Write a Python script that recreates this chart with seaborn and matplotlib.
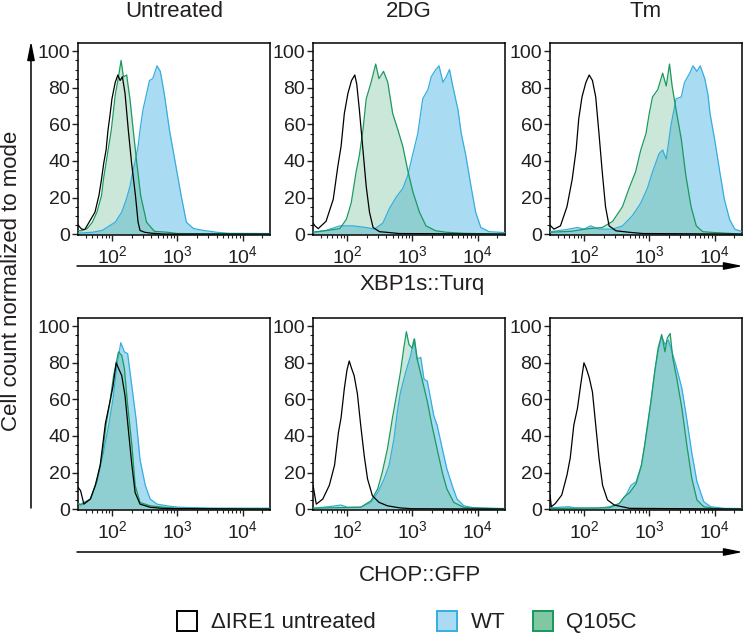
import numpy as np
import matplotlib
matplotlib.use("Agg")
import matplotlib.pyplot as plt
import seaborn as sns
from matplotlib.patches import FancyArrowPatch, Rectangle
from matplotlib.ticker import LogLocator, MultipleLocator, NullFormatter

# conditions (columns) and reporters (rows)
conditions = ["Untreated", "2DG", "Tm"]
reporters = ["XBP1s::Turq", "CHOP::GFP"]
legend_labels = ["\u0394IRE1 untreated", "WT", "Q105C"]

# histogram outlines: log10(intensity) and % of mode
# --- XBP1s::Turq, Untreated
xbp_untr_ire1_x = [1.48, 1.535, 1.585, 1.65, 1.74, 1.80, 1.84, 1.875, 1.91, 1.94, 1.97, 2.0, 2.05, 2.09, 2.125, 2.16, 2.2, 2.25, 2.30, 2.36, 2.40, 2.43, 2.5, 2.6, 2.8, 4.42]
xbp_untr_ire1_y = [5, 2.7, 2.5, 6.5, 12, 21, 30, 39, 46, 57, 65, 74, 83, 87, 84, 86, 77, 57, 39, 21, 6.5, 2, 1, 0.5, 0, 0]
xbp_untr_wt_x = [1.48, 1.7, 1.85, 2.05, 2.15, 2.22, 2.275, 2.33, 2.35, 2.40, 2.43, 2.475, 2.525, 2.575, 2.625, 2.69, 2.74, 2.80, 2.88, 2.97, 3.06, 3.14, 3.25, 3.4, 3.6, 3.8, 4.42]
xbp_untr_wt_y = [0.5, 1, 2, 6.5, 12, 19, 26, 36, 39, 48, 57, 68, 76, 84, 85, 92, 89, 77, 57, 39, 21, 6.5, 3, 2, 1, 0.4, 0.3]
xbp_untr_q105c_x = [1.48, 1.535, 1.62, 1.70, 1.77, 1.84, 1.87, 1.91, 1.95, 1.99, 2.05, 2.10, 2.14, 2.175, 2.225, 2.275, 2.325, 2.38, 2.44, 2.53, 2.65, 2.85, 3.0, 4.42]
xbp_untr_q105c_y = [2, 1.8, 3, 6.5, 12, 21, 30, 39, 48, 57, 76, 86, 95, 86, 87, 74, 57, 39, 21, 6.5, 1.5, 1, 0.3, 0]
# --- XBP1s::Turq, 2DG
xbp_2dg_ire1_x = [1.48, 1.51, 1.56, 1.68, 1.79, 1.86, 1.91, 1.96, 2.015, 2.07, 2.12, 2.15, 2.19, 2.24, 2.295, 2.345, 2.40, 2.5, 2.6, 2.8, 4.42]
xbp_2dg_ire1_y = [6, 4.5, 3, 7, 19, 37, 48, 66, 77, 84, 87, 82, 68, 48, 26, 12, 3.6, 1.3, 1, 0.3, 0]
xbp_2dg_wt_x = [1.48, 1.68, 1.89, 2.09, 2.295, 2.42, 2.55, 2.65, 2.75, 2.855, 2.93, 3.01, 3.085, 3.16, 3.24, 3.29, 3.36, 3.41, 3.47, 3.52, 3.57, 3.62, 3.70, 3.75, 3.82, 3.90, 3.97, 4.05, 4.18, 4.33, 4.42]
xbp_2dg_wt_y = [1, 2, 4.5, 4.5, 3.6, 2.7, 6, 14, 20, 25, 32, 44, 55, 74, 79, 86, 90, 92, 83, 86, 90, 81, 68, 55, 43, 26, 12, 3.6, 1.3, 1, 0.8]
xbp_2dg_q105c_x = [1.48, 1.7, 1.89, 1.99, 2.065, 2.14, 2.19, 2.245, 2.295, 2.37, 2.44, 2.49, 2.56, 2.625, 2.70, 2.78, 2.855, 2.93, 3.01, 3.11, 3.21, 3.36, 3.52, 3.8, 4.42]
xbp_2dg_q105c_y = [1, 2, 3, 8, 17, 34, 43, 57, 74, 83, 93, 85, 89, 83, 66, 57, 48, 35, 23, 12, 4.5, 1.8, 1, 0.4, 0]
# --- XBP1s::Turq, Tm
xbp_tm_ire1_x = [1.48, 1.49, 1.54, 1.64, 1.74, 1.82, 1.88, 1.92, 1.97, 2.03, 2.08, 2.13, 2.18, 2.23, 2.28, 2.33, 2.385, 2.49, 2.69, 2.9, 4.42]
xbp_tm_ire1_y = [5, 4.5, 2.7, 4.5, 15, 30, 46, 63, 75, 83, 87, 84, 75, 55, 34, 15, 4.5, 1.8, 1, 0.3, 0]
xbp_tm_wt_x = [1.48, 1.72, 1.90, 2.0, 2.10, 2.23, 2.44, 2.59, 2.74, 2.87, 2.97, 3.05, 3.15, 3.205, 3.26, 3.33, 3.41, 3.49, 3.54, 3.62, 3.67, 3.73, 3.78, 3.85, 3.90, 3.93, 4.0, 4.08, 4.15, 4.23, 4.31, 4.42]
xbp_tm_wt_y = [1.3, 2.4, 3.6, 2.7, 4.5, 2.7, 2.7, 4.5, 10, 17, 25, 34, 44, 46, 41, 59, 74, 75, 83, 88, 92, 89, 92, 85, 76, 66, 52, 34, 19, 8, 2.7, 1.3]
xbp_tm_q105c_x = [1.48, 1.8, 2.08, 2.28, 2.44, 2.59, 2.69, 2.79, 2.87, 2.95, 3.0, 3.05, 3.13, 3.205, 3.26, 3.31, 3.35, 3.41, 3.49, 3.56, 3.64, 3.72, 3.82, 3.97, 4.42]
xbp_tm_q105c_y = [1, 1.5, 3, 3.6, 7, 15, 25, 34, 46, 55, 66, 75, 79, 88, 81, 93, 81, 68, 52, 32, 15, 4.5, 1.3, 0.9, 0]
# --- CHOP::GFP, Untreated
chop_untr_ire1_x = [1.48, 1.52, 1.57, 1.67, 1.745, 1.82, 1.90, 1.965, 2.015, 2.065, 2.10, 2.15, 2.20, 2.255, 2.305, 2.355, 2.43, 2.585, 2.8, 4.42]
chop_untr_ire1_y = [12, 10, 2.7, 5.5, 13, 24, 47, 58, 67, 80, 77, 73, 62, 42, 24, 9, 2.7, 1, 0.3, 0]
chop_untr_wt_x = [1.48, 1.52, 1.67, 1.77, 1.87, 1.95, 2.015, 2.075, 2.135, 2.19, 2.24, 2.305, 2.37, 2.43, 2.51, 2.585, 2.69, 2.89, 3.04, 3.5, 4.42]
chop_untr_wt_y = [3, 2.7, 5.5, 14.6, 31, 46, 60, 78, 91, 86, 85, 67, 49, 27, 13, 5.5, 2.7, 1.5, 1, 0.5, 0.5]
chop_untr_q105c_x = [1.48, 1.52, 1.67, 1.77, 1.85, 1.91, 1.975, 2.025, 2.10, 2.15, 2.19, 2.24, 2.305, 2.355, 2.43, 2.585, 2.79, 3.0, 4.42]
chop_untr_q105c_y = [3, 2.2, 5.5, 15.5, 29, 46, 60, 73, 86, 84, 77, 57, 35, 13, 3.6, 1.8, 1, 0.4, 0.2]
# --- CHOP::GFP, 2DG
chop_2dg_ire1_x = [1.48, 1.49, 1.53, 1.63, 1.73, 1.81, 1.87, 1.91, 1.96, 2.0, 2.035, 2.07, 2.11, 2.16, 2.21, 2.265, 2.315, 2.39, 2.49, 2.62, 2.82, 3.0, 4.42]
chop_2dg_ire1_y = [13, 11, 2.7, 5.5, 13, 24, 42, 50, 66, 76, 81, 77, 73, 63, 46, 29, 16.5, 7.3, 3.7, 1.8, 0.6, 0.2, 0]
chop_2dg_wt_x = [1.48, 1.76, 1.91, 2.01, 2.21, 2.37, 2.47, 2.57, 2.645, 2.72, 2.77, 2.82, 2.90, 2.975, 3.025, 3.075, 3.13, 3.18, 3.23, 3.28, 3.33, 3.38, 3.46, 3.53, 3.61, 3.685, 3.79, 3.94, 4.42]
chop_2dg_wt_y = [0.4, 1.5, 2.2, 1, 1, 3.7, 9, 16.5, 24, 38.5, 53, 64, 75, 84, 93, 82, 83, 71, 70, 60.5, 51, 46, 33, 22, 13, 5.5, 1.8, 0.7, 0.3]
chop_2dg_q105c_x = [1.48, 2.21, 2.37, 2.47, 2.54, 2.62, 2.695, 2.75, 2.82, 2.87, 2.91, 2.95, 3.0, 3.035, 3.075, 3.15, 3.23, 3.30, 3.38, 3.46, 3.53, 3.635, 3.79, 4.42]
chop_2dg_q105c_y = [0.5, 1, 4.6, 11, 20, 33, 49.5, 60.5, 75, 88, 97, 90, 88, 93, 82, 71, 59, 46, 33, 20, 11, 3.7, 0.9, 0]
# --- CHOP::GFP, Tm
chop_tm_ire1_x = [1.48, 1.50, 1.56, 1.66, 1.74, 1.79, 1.845, 1.90, 1.95, 2.0, 2.035, 2.08, 2.13, 2.18, 2.23, 2.285, 2.36, 2.465, 2.70, 4.42]
chop_tm_ire1_y = [8, 1.3, 3, 7.7, 18.6, 28, 46, 55, 68, 80, 77, 72, 64, 46, 28, 13, 5, 2.2, 0.4, 0]
chop_tm_wt_x = [1.48, 1.77, 1.85, 2.2, 2.39, 2.54, 2.645, 2.72, 2.80, 2.88, 2.93, 2.98, 3.03, 3.085, 3.135, 3.19, 3.24, 3.29, 3.34, 3.42, 3.50, 3.575, 3.65, 3.73, 3.835, 3.94, 4.14, 4.42]
chop_tm_wt_y = [0.7, 1.3, 0.7, 0.4, 1.3, 3, 7.7, 13, 15, 24, 35, 46, 60, 75.5, 86, 94.5, 90, 92.5, 87, 77, 66, 49, 31, 15, 4, 1.3, 0.4, 0.3]
chop_tm_q105c_x = [1.48, 2.39, 2.54, 2.62, 2.70, 2.80, 2.88, 2.93, 2.98, 3.03, 3.085, 3.135, 3.19, 3.24, 3.275, 3.32, 3.36, 3.42, 3.50, 3.575, 3.65, 3.73, 3.835, 3.99, 4.42]
chop_tm_q105c_y = [0.3, 0.7, 3, 6.8, 9, 14, 24, 35, 48, 60, 75.5, 88, 95.5, 86, 93.5, 96, 82.6, 71.7, 55, 35, 17, 5, 1.3, 0.4, 0]

panels = [
    [(xbp_untr_ire1_x, xbp_untr_ire1_y, xbp_untr_wt_x, xbp_untr_wt_y, xbp_untr_q105c_x, xbp_untr_q105c_y),
     (xbp_2dg_ire1_x, xbp_2dg_ire1_y, xbp_2dg_wt_x, xbp_2dg_wt_y, xbp_2dg_q105c_x, xbp_2dg_q105c_y),
     (xbp_tm_ire1_x, xbp_tm_ire1_y, xbp_tm_wt_x, xbp_tm_wt_y, xbp_tm_q105c_x, xbp_tm_q105c_y)],
    [(chop_untr_ire1_x, chop_untr_ire1_y, chop_untr_wt_x, chop_untr_wt_y, chop_untr_q105c_x, chop_untr_q105c_y),
     (chop_2dg_ire1_x, chop_2dg_ire1_y, chop_2dg_wt_x, chop_2dg_wt_y, chop_2dg_q105c_x, chop_2dg_q105c_y),
     (chop_tm_ire1_x, chop_tm_ire1_y, chop_tm_wt_x, chop_tm_wt_y, chop_tm_q105c_x, chop_tm_q105c_y)],
]

WT_FILL, WT_EDGE = "#a9dcf3", "#36ade0"
Q_FILL, Q_EDGE = "#55b284", "#1c9a5e"
TXT = "#231f20"

sns.set_theme(style="ticks")
plt.rcParams["font.family"] = ["Liberation Sans", "DejaVu Sans"]
plt.rcParams["mathtext.fontset"] = "custom"
plt.rcParams["mathtext.rm"] = "Liberation Sans"
plt.rcParams["text.color"] = TXT
plt.rcParams["xtick.color"] = TXT
plt.rcParams["ytick.color"] = TXT

W, H = 744, 633
fig = plt.figure(figsize=(W / 100, H / 100), dpi=100)

col_left = [78, 313, 550]
row_top = [43, 318]
box = 192
FS = 16
TICK_FS = 14

for r in range(2):
    for c in range(3):
        ax = fig.add_axes([col_left[c] / W, 1 - (row_top[r] + box) / H, box / W, box / H])
        ax.set_xscale("log")
        ire_x, ire_y, wt_x, wt_y, q_x, q_y = panels[r][c]
        wx, qx, ix = 10 ** np.array(wt_x), 10 ** np.array(q_x), 10 ** np.array(ire_x)
        ax.fill_between(wx, wt_y, 0, color=WT_FILL, lw=0, zorder=1)
        ax.fill_between(qx, q_y, 0, color=Q_FILL, alpha=0.3, lw=0, zorder=2)
        sns.lineplot(x=wx, y=wt_y, ax=ax, color=WT_EDGE, lw=0.9, sort=False, estimator=None, zorder=3)
        sns.lineplot(x=qx, y=q_y, ax=ax, color=Q_EDGE, lw=0.9, sort=False, estimator=None, zorder=4)
        sns.lineplot(x=ix, y=ire_y, ax=ax, color="black", lw=0.9, sort=False, estimator=None, zorder=5)

        ax.set_xlim(10 ** 1.48, 10 ** 4.42)
        ax.set_ylim(-0.5, 104.5)
        ax.set_yticks([0, 20, 40, 60, 80, 100])
        ax.yaxis.set_minor_locator(MultipleLocator(5))
        ax.set_xticks([1e2, 1e3, 1e4])
        ax.xaxis.set_minor_locator(LogLocator(base=10, subs=np.arange(2, 10)))
        ax.xaxis.set_minor_formatter(NullFormatter())
        ax.set_xlabel("")
        ax.set_ylabel("")
        ax.tick_params(which="major", direction="out", length=4.5, width=1, labelsize=TICK_FS, pad=1)
        ax.tick_params(which="minor", direction="out", length=2.2, width=0.8)
        ax.tick_params(axis="x", which="major", pad=3)
        for s in ax.spines.values():
            s.set_visible(True)
            s.set_linewidth(1.1)
            s.set_color("black")

# column titles
for c, name in enumerate(conditions):
    fig.text((col_left[c] + box / 2) / W, 1 - 17 / H, name, ha="center", va="baseline", fontsize=FS)

# reporter axes with arrows
arrow_kw = dict(arrowstyle="-|>,head_length=0.8,head_width=0.16", mutation_scale=14,
                color="black", lw=1.1, transform=fig.transFigure, shrinkA=0, shrinkB=0)
for y_line in [266, 552]:
    fig.add_artist(FancyArrowPatch((77 / W, 1 - y_line / H), (743 / W, 1 - y_line / H), **arrow_kw))
fig.add_artist(FancyArrowPatch((31 / W, 1 - 508 / H), (31 / W, 1 - 41 / H), **arrow_kw))

fig.text(422 / W, 1 - 290 / H, reporters[0], ha="center", va="baseline", fontsize=FS)
fig.text(420 / W, 1 - 581 / H, reporters[1], ha="center", va="baseline", fontsize=FS)
fig.text(12 / W, 1 - 281 / H, "Cell count normalized to mode", rotation=90,
         ha="center", va="center", fontsize=FS)

# legend
legend_boxes = [(177, "white", "black"), (437, WT_FILL, WT_EDGE), (533, "#80c8a3", "#17985a")]
legend_text_x = [211, 471, 566]
for (bx, fc, ec), tx, lab in zip(legend_boxes, legend_text_x, legend_labels):
    fig.add_artist(Rectangle((bx / W, 1 - 631 / H), 20 / W, 20 / H, transform=fig.transFigure,
                             facecolor=fc, edgecolor=ec, lw=1.4))
    fig.text(tx / W, 1 - 628 / H, lab, ha="left", va="baseline", fontsize=FS)

fig.savefig("out.png", dpi=100)
